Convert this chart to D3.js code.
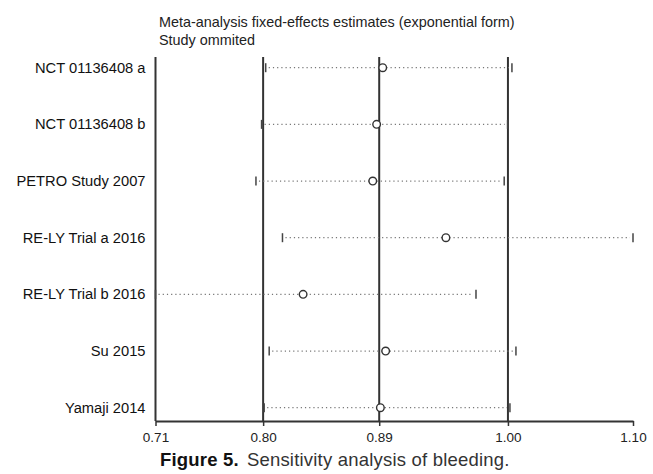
<!DOCTYPE html>
<html>
<head>
<meta charset="utf-8">
<script src="https://cdn.jsdelivr.net/npm/d3@7"></script>
<style>
  html, body { margin: 0; padding: 0; background: #fff; }
  svg { display: block; font-family: "Liberation Sans", Arial, sans-serif; }
</style>
</head>
<body>
<div id="chart"></div>
<script>
// Datos
const studies = [
  'NCT 01136408 a',
  'NCT 01136408 b',
  'PETRO Study 2007',
  'RE-LY Trial a 2016',
  'RE-LY Trial b 2016',
  'Su 2015',
  'Yamaji 2014',
];
const estimates = [0.893, 0.888, 0.885, 0.947, 0.831, 0.8955, 0.891];
const lowerCI = [0.802, 0.7987, 0.794, 0.815, 0.71, 0.8047, 0.8008];
const upperCI = [1.0032, 0.9997, 0.9968, 1.10, 0.9727, 1.0064, 1.0016];
const tickValues = [0.71, 0.8, 0.89, 1.0, 1.1];
const tickLabels = ['0.71', '0.80', '0.89', '1.00', '1.10'];
const refLines = [0.71, 0.8, 0.89, 1.0];

// Dimensiones
const W = 653, H = 474;
const margin = { top: 57, right: 20, bottom: 53, left: 155.5 };
const width = W - margin.left - margin.right;
const height = H - margin.top - margin.bottom;
// posición relativa de cada marca en el eje original (no es lineal exacto)
const tickFrac = [0, 0.2254, 0.4685, 0.7381, 1];

const svg = d3.select('#chart')
  .append('svg')
  .attr('width', W)
  .attr('height', H);

const g = svg.append('g')
  .attr('transform', `translate(${margin.left},${margin.top})`);

const x = d3.scaleLinear()
  .domain(tickValues)
  .range(tickFrac.map((f) => f * width));

const y = d3.scalePoint()
  .domain(studies)
  .range([10.7, 350.7]);

// Títulos
svg.append('text')
  .attr('x', 159).attr('y', 27)
  .attr('font-size', 14.4).attr('fill', '#222')
  .text('Meta-analysis fixed-effects estimates (exponential form)');
svg.append('text')
  .attr('x', 159).attr('y', 45)
  .attr('font-size', 14.4).attr('fill', '#222')
  .text('Study ommited');

// Líneas verticales de referencia
g.selectAll('.ref')
  .data(refLines)
  .enter().append('line')
  .attr('x1', (d) => x(d)).attr('x2', (d) => x(d))
  .attr('y1', 0).attr('y2', height)
  .attr('stroke', '#333')
  .attr('stroke-width', 2);

const rows = studies.map((s, i) => ({
  name: s, est: estimates[i], lo: lowerCI[i], hi: upperCI[i],
}));

// Líneas punteadas de los intervalos
g.selectAll('.ci')
  .data(rows)
  .enter().append('line')
  .attr('x1', (d) => x(d.lo) + 3).attr('x2', (d) => x(d.hi) - 3)
  .attr('y1', (d) => y(d.name)).attr('y2', (d) => y(d.name))
  .attr('stroke', '#777')
  .attr('stroke-width', 1.2)
  .attr('stroke-dasharray', '1.2,3');

// Marcas de los extremos
const ends = [];
rows.forEach((d) => { ends.push([d.lo, d.name]); ends.push([d.hi, d.name]); });
g.selectAll('.end')
  .data(ends)
  .enter().append('line')
  .attr('x1', (d) => x(d[0])).attr('x2', (d) => x(d[0]))
  .attr('y1', (d) => y(d[1]) - 4.5).attr('y2', (d) => y(d[1]) + 4.5)
  .attr('stroke', '#444')
  .attr('stroke-width', 1.5);

// Estimaciones puntuales
g.selectAll('.est')
  .data(rows)
  .enter().append('circle')
  .attr('cx', (d) => x(d.est))
  .attr('cy', (d) => y(d.name))
  .attr('r', 3.8)
  .attr('fill', '#fff')
  .attr('stroke', '#333')
  .attr('stroke-width', 1.4);

// Etiquetas de estudios
g.selectAll('.lab')
  .data(studies)
  .enter().append('text')
  .attr('x', -10)
  .attr('y', (d) => y(d) + 5)
  .attr('text-anchor', 'end')
  .attr('font-size', 14.7)
  .attr('fill', '#111')
  .text((d) => d);

// Eje X
const axis = g.append('g')
  .attr('transform', `translate(0,${height})`)
  .call(d3.axisBottom(x)
    .tickValues(tickValues)
    .tickFormat((d, i) => tickLabels[i])
    .tickSize(5)
    .tickSizeOuter(0));
axis.select('.domain').attr('stroke', '#333').attr('stroke-width', 2);
axis.selectAll('.tick line').attr('stroke', '#333').attr('stroke-width', 1.5);
axis.selectAll('.tick text')
  .attr('font-size', 13.5)
  .attr('font-family', '"Liberation Sans", Arial, sans-serif')
  .attr('fill', '#222')
  .attr('dy', null)
  .attr('y', 21);

// Pie de figura
const cap = svg.append('text')
  .attr('x', 160).attr('y', 466)
  .attr('font-size', 18.5)
  .attr('letter-spacing', 0.2)
  .attr('fill', '#333');
cap.append('tspan').attr('font-weight', 'bold').attr('fill', '#111').text('Figure 5.');
cap.append('tspan').attr('dx', 8).text('Sensitivity analysis of bleeding.');
</script>
</body>
</html>
